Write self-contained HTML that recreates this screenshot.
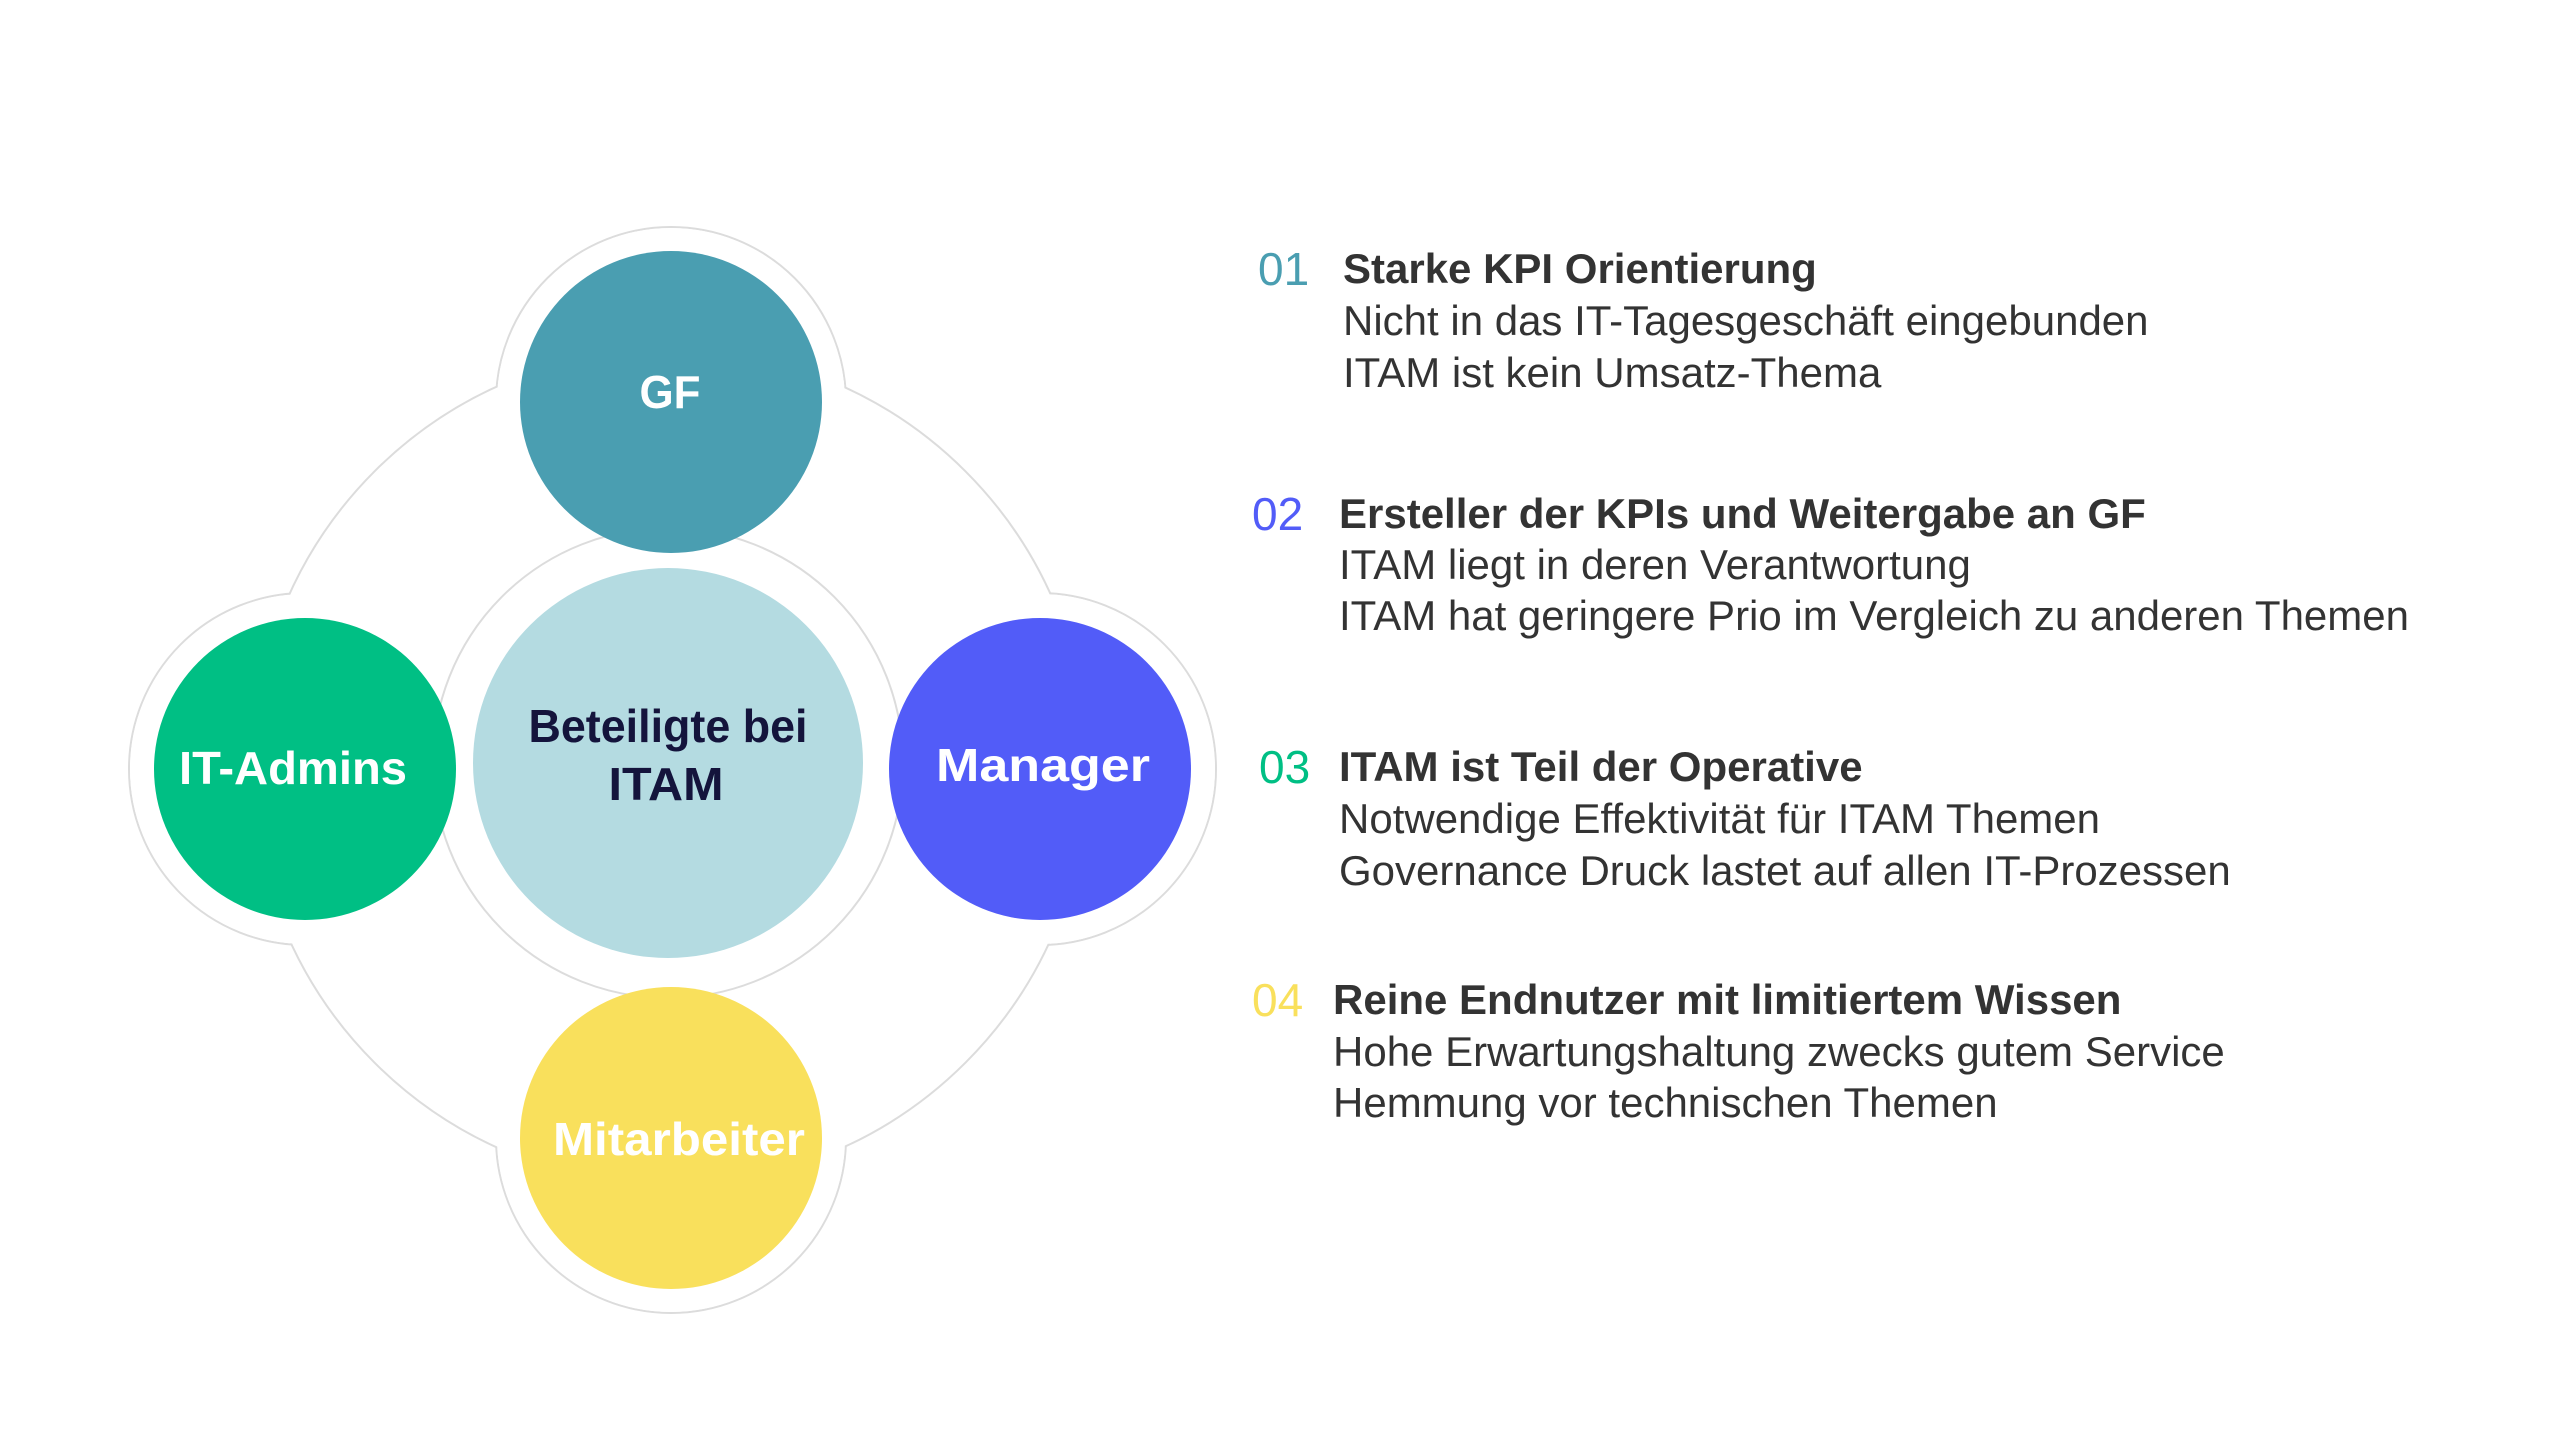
<!DOCTYPE html>
<html><head><meta charset="utf-8"><style>
html,body{margin:0;padding:0;background:#fff;}
svg{display:block;}
</style></head><body>
<svg width="2559" height="1440" viewBox="0 0 2559 1440" xmlns="http://www.w3.org/2000/svg">
<g fill="#fff" stroke="#dcdcdc" stroke-width="2">
  <circle cx="671" cy="402" r="175"/>
  <circle cx="305" cy="769" r="176"/>
  <circle cx="1040" cy="769" r="176"/>
  <circle cx="671" cy="1138" r="175"/>
</g>
<circle cx="670" cy="767" r="418" fill="#fff" stroke="#dcdcdc" stroke-width="2"/>
<g fill="#fff">
  <circle cx="671" cy="402" r="174"/>
  <circle cx="305" cy="769" r="175"/>
  <circle cx="1040" cy="769" r="175"/>
  <circle cx="671" cy="1138" r="174"/>
</g>
<circle cx="668" cy="763" r="235" fill="#fff" stroke="#dcdcdc" stroke-width="2"/>
<circle cx="668" cy="763" r="195" fill="#b4dbe1"/>
<circle cx="671" cy="402" r="151" fill="#4a9eb1"/>
<circle cx="305" cy="769" r="151" fill="#00bf84"/>
<circle cx="1040" cy="769" r="151" fill="#525cf8"/>
<circle cx="671" cy="1138" r="151" fill="#f9e05c"/>
<g font-family="Liberation Sans, sans-serif" font-weight="bold" font-size="46" fill="#fff" text-anchor="middle">
  <text x="670" y="408" textLength="61" lengthAdjust="spacingAndGlyphs">GF</text>
  <text x="293" y="784" textLength="228" lengthAdjust="spacingAndGlyphs">IT-Admins</text>
  <text x="1043" y="781" textLength="214" lengthAdjust="spacingAndGlyphs">Manager</text>
  <text x="679" y="1155" textLength="252" lengthAdjust="spacingAndGlyphs">Mitarbeiter</text>
  <text x="668" y="742" fill="#14143c" textLength="279" lengthAdjust="spacingAndGlyphs">Beteiligte bei</text>
  <text x="666" y="800" fill="#14143c" textLength="115" lengthAdjust="spacingAndGlyphs">ITAM</text>
</g>
<g font-family="Liberation Sans, sans-serif" font-size="42" fill="#333">
  <text x="1258" y="285" fill="#4a9eb1" font-size="46">01</text>
  <text x="1343" y="283" font-weight="bold">Starke KPI Orientierung</text>
  <text x="1343" y="335">Nicht in das IT-Tagesgeschäft eingebunden</text>
  <text x="1343" y="387">ITAM ist kein Umsatz-Thema</text>

  <text x="1252" y="530" fill="#525cf8" font-size="46">02</text>
  <text x="1339" y="528" font-weight="bold">Ersteller der KPIs und Weitergabe an GF</text>
  <text x="1339" y="579">ITAM liegt in deren Verantwortung</text>
  <text x="1339" y="630">ITAM hat geringere Prio im Vergleich zu anderen Themen</text>

  <text x="1259" y="783" fill="#00bf84" font-size="46">03</text>
  <text x="1339" y="781" font-weight="bold">ITAM ist Teil der Operative</text>
  <text x="1339" y="833">Notwendige Effektivität für ITAM Themen</text>
  <text x="1339" y="885">Governance Druck lastet auf allen IT-Prozessen</text>

  <text x="1252" y="1016" fill="#f9e05c" font-size="46">04</text>
  <text x="1333" y="1014" font-weight="bold">Reine Endnutzer mit limitiertem Wissen</text>
  <text x="1333" y="1066">Hohe Erwartungshaltung zwecks gutem Service</text>
  <text x="1333" y="1117">Hemmung vor technischen Themen</text>
</g>
</svg>
</body></html>
